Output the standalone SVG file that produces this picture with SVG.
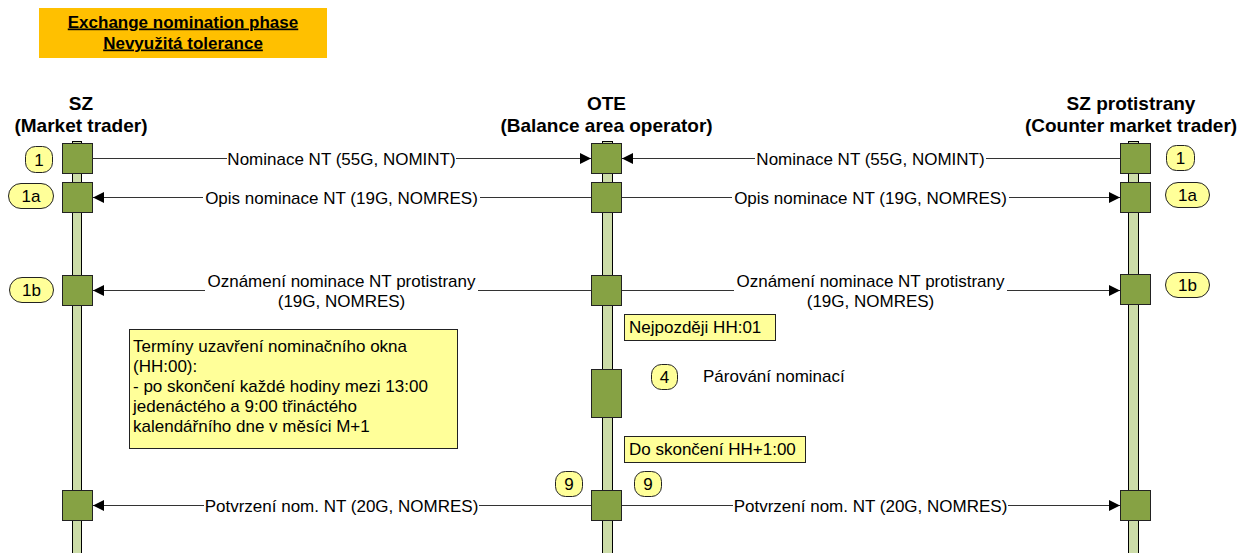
<svg xmlns="http://www.w3.org/2000/svg" width="1240" height="553" viewBox="0 0 1240 553">
<style>
text{font-family:"Liberation Sans",Arial,sans-serif;font-size:17px;fill:#000}
.hdr{font-weight:bold;font-size:19px;text-anchor:middle}
.ttl{font-weight:bold;font-size:17px;text-anchor:middle;text-decoration:underline}
.mid{text-anchor:middle}
.life{fill:#CCDCA8;stroke:#000;stroke-width:1}
.act{fill:#86A244;stroke:#222;stroke-width:1}
.badge{fill:#FFFF99;stroke:#222;stroke-width:1}
.note{fill:#FFFF99;stroke:#222;stroke-width:1}
.msg{fill:none;stroke:#333;stroke-width:1}
</style>
<defs>
<marker id="ah" markerUnits="userSpaceOnUse" markerWidth="11" markerHeight="11" refX="11" refY="5.5" orient="auto">
<path d="M0,0 L11,5.5 L0,11 Z" fill="#000"/>
</marker>
</defs>
<rect width="1240" height="553" fill="#fff"/>

<g id="title">
<rect x="39" y="8" width="288" height="50" fill="#FFC000"/>
<text class="ttl" x="183" y="27.5">Exchange nomination phase</text>
<text class="ttl" x="183" y="48.5">Nevyužitá tolerance</text>
</g>

<g id="lifeline-sz">
<text class="hdr" x="81" y="110">SZ</text>
<text class="hdr" x="81" y="132">(Market trader)</text>
<rect class="life" x="72.5" y="141.5" width="9" height="420"/>
<rect class="act" x="62.5" y="143.5" width="30" height="30"/>
<rect class="act" x="62.5" y="182.5" width="30" height="30"/>
<rect class="act" x="62.5" y="275.5" width="30" height="30"/>
<rect class="act" x="62.5" y="490.5" width="30" height="30"/>
<rect class="badge" x="25.5" y="146.5" width="27" height="26" rx="10"/>
<text class="mid" x="39" y="165.5">1</text>
<rect class="badge" x="8.5" y="183.5" width="45" height="25" rx="12.5"/>
<text class="mid" x="31" y="202">1a</text>
<rect class="badge" x="9.5" y="277.5" width="44" height="25" rx="12.5"/>
<text class="mid" x="31.5" y="296">1b</text>
</g>

<g id="lifeline-ote">
<text class="hdr" x="606.5" y="110">OTE</text>
<text class="hdr" x="606.5" y="132">(Balance area operator)</text>
<rect class="life" x="602.5" y="141.5" width="10" height="420"/>
<rect class="act" x="591.5" y="143.5" width="30" height="30"/>
<rect class="act" x="591.5" y="182.5" width="30" height="30"/>
<rect class="act" x="591.5" y="275.5" width="30" height="30"/>
<rect class="act" x="591.5" y="369.5" width="30" height="48"/>
<rect class="act" x="591.5" y="490.5" width="30" height="30"/>
</g>

<g id="lifeline-counter">
<text class="hdr" x="1131" y="110">SZ protistrany</text>
<text class="hdr" x="1131" y="132">(Counter market trader)</text>
<rect class="life" x="1128.5" y="141.5" width="10" height="420"/>
<rect class="act" x="1120.5" y="143.5" width="30" height="30"/>
<rect class="act" x="1120.5" y="182.5" width="30" height="30"/>
<rect class="act" x="1120.5" y="274.5" width="30" height="30"/>
<rect class="act" x="1120.5" y="490.5" width="30" height="30"/>
<rect class="badge" x="1166.5" y="145.5" width="28" height="25" rx="10"/>
<text class="mid" x="1180.5" y="164">1</text>
<rect class="badge" x="1165.5" y="182.5" width="44" height="25" rx="12.5"/>
<text class="mid" x="1187.5" y="201">1a</text>
<rect class="badge" x="1165.5" y="272.5" width="44" height="25" rx="12.5"/>
<text class="mid" x="1187.5" y="291">1b</text>
</g>

<g id="connectors">
<path class="msg" d="M92.5 158.5 H227"/>
<path class="msg" d="M456 158.5 H591" marker-end="url(#ah)"/>
<text class="mid" x="341.5" y="164.5">Nominace NT (55G, NOMINT)</text>
<path class="msg" d="M1120 158.5 H986"/>
<path class="msg" d="M755 158.5 H622" marker-end="url(#ah)"/>
<text class="mid" x="870.5" y="164.5">Nominace NT (55G, NOMINT)</text>

<path class="msg" d="M591 197.5 H480"/>
<path class="msg" d="M203 197.5 H93" marker-end="url(#ah)"/>
<text class="mid" x="341.5" y="203.5">Opis nominace NT (19G, NOMRES)</text>
<path class="msg" d="M622 197.5 H732"/>
<path class="msg" d="M1009 197.5 H1120" marker-end="url(#ah)"/>
<text class="mid" x="870.5" y="203.5">Opis nominace NT (19G, NOMRES)</text>

<path class="msg" d="M591 290.5 H478"/>
<path class="msg" d="M205 290.5 H93" marker-end="url(#ah)"/>
<text class="mid" x="341.5" y="287">Oznámení nominace NT protistrany</text>
<text class="mid" x="341.5" y="306.5">(19G, NOMRES)</text>
<path class="msg" d="M622 290.5 H734"/>
<path class="msg" d="M1007 290.5 H1120" marker-end="url(#ah)"/>
<text class="mid" x="870.5" y="287">Oznámení nominace NT protistrany</text>
<text class="mid" x="870.5" y="306.5">(19G, NOMRES)</text>

<path class="msg" d="M591 505.5 H479"/>
<path class="msg" d="M204 505.5 H93" marker-end="url(#ah)"/>
<text class="mid" x="341.5" y="511.5">Potvrzení nom. NT (20G, NOMRES)</text>
<path class="msg" d="M622 505.5 H733"/>
<path class="msg" d="M1008 505.5 H1120" marker-end="url(#ah)"/>
<text class="mid" x="870.5" y="511.5">Potvrzení nom. NT (20G, NOMRES)</text>
</g>

<g id="note-terminy">
<rect class="note" x="129.5" y="329.5" width="328" height="119"/>
<text x="133" y="352">Termíny uzavření nominačního okna</text>
<text x="133" y="372">(HH:00):</text>
<text x="133" y="392">- po skončení každé hodiny mezi 13:00</text>
<text x="133" y="412">jedenáctého a 9:00 třináctého</text>
<text x="133" y="432">kalendářního dne v měsíci M+1</text>
</g>

<g id="note-nejpozdeji">
<rect class="note" x="624.5" y="314.5" width="151" height="26"/>
<text x="629" y="333">Nejpozději HH:01</text>
</g>

<g id="step-4">
<rect class="badge" x="651.5" y="364.5" width="26" height="25" rx="10"/>
<text class="mid" x="664.5" y="383">4</text>
<text x="703" y="382">Párování nominací</text>
</g>

<g id="note-do-skonceni">
<rect class="note" x="624.5" y="436.5" width="181" height="26"/>
<text x="629" y="455">Do skončení HH+1:00</text>
</g>

<g id="step-9-left">
<rect class="badge" x="555.5" y="471.5" width="27" height="25" rx="10"/>
<text class="mid" x="569" y="490">9</text>
</g>
<g id="step-9-right">
<rect class="badge" x="634.5" y="471.5" width="27" height="25" rx="10"/>
<text class="mid" x="648" y="490">9</text>
</g>
</svg>
